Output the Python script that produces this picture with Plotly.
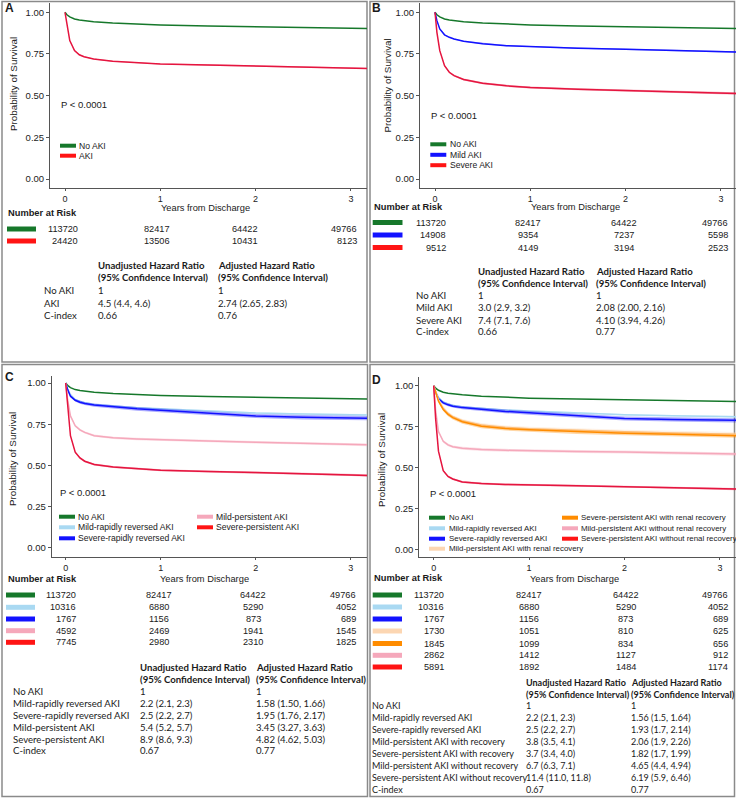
import plotly.graph_objects as go

# ---------------- DATA ----------------
T = [0, 0.02, 0.05, 0.1, 0.15, 0.2, 0.3, 0.5, 0.75, 1, 1.5, 2, 2.5, 3, 3.2]

no_aki = [1.0, 0.985, 0.972, 0.960, 0.954, 0.950, 0.944, 0.936, 0.929, 0.924, 0.918, 0.913, 0.909, 0.905, 0.903]
aki_A = [1.0, 0.92, 0.83, 0.77, 0.745, 0.733, 0.72, 0.706, 0.697, 0.69, 0.684, 0.678, 0.672, 0.666, 0.663]
aki_A_ci = [0, 0.002, 0.003, 0.003, 0.003, 0.003, 0.003, 0.003, 0.003, 0.003, 0.004, 0.004, 0.004, 0.004, 0.004]

mild_B = [1.0, 0.95, 0.90, 0.865, 0.85, 0.84, 0.826, 0.812, 0.80, 0.794, 0.785, 0.778, 0.771, 0.764, 0.761]
mild_B_ci = [0, 0.002, 0.003, 0.003, 0.003, 0.003, 0.003, 0.004, 0.004, 0.004, 0.004, 0.004, 0.005, 0.005, 0.005]
severe_B = [1.0, 0.88, 0.77, 0.68, 0.64, 0.62, 0.597, 0.575, 0.559, 0.549, 0.538, 0.53, 0.522, 0.516, 0.513]
severe_B_ci = [0, 0.004, 0.005, 0.005, 0.005, 0.005, 0.006, 0.006, 0.006, 0.006, 0.006, 0.007, 0.007, 0.007, 0.007]

mild_rapid_C = [1.0, 0.965, 0.93, 0.90, 0.888, 0.88, 0.87, 0.86, 0.85, 0.843, 0.83, 0.818, 0.812, 0.808, 0.806]
mild_rapid_C_ci = [0, 0.002, 0.003, 0.003, 0.004, 0.004, 0.004, 0.004, 0.004, 0.005, 0.005, 0.005, 0.005, 0.006, 0.006]
severe_rapid_C = [1.0, 0.96, 0.92, 0.895, 0.883, 0.875, 0.866, 0.855, 0.843, 0.834, 0.818, 0.80, 0.792, 0.788, 0.786]
severe_rapid_C_ci = [0, 0.005, 0.007, 0.008, 0.009, 0.009, 0.010, 0.010, 0.011, 0.011, 0.012, 0.012, 0.013, 0.013, 0.013]
mild_pers_C = [1.0, 0.9, 0.8, 0.74, 0.715, 0.70, 0.68, 0.667, 0.66, 0.655, 0.648, 0.64, 0.634, 0.627, 0.624]
mild_pers_C_ci = [0, 0.005, 0.006, 0.007, 0.007, 0.007, 0.007, 0.007, 0.007, 0.007, 0.008, 0.008, 0.008, 0.008, 0.008]
severe_pers_C = [1.0, 0.85, 0.68, 0.58, 0.545, 0.525, 0.505, 0.49, 0.478, 0.47, 0.463, 0.457, 0.45, 0.442, 0.438]
severe_pers_C_ci = [0, 0.004, 0.005, 0.006, 0.006, 0.006, 0.006, 0.006, 0.006, 0.006, 0.006, 0.006, 0.007, 0.007, 0.007]

mild_rapid_D = [1.0, 0.965, 0.93, 0.90, 0.888, 0.88, 0.87, 0.86, 0.852, 0.845, 0.833, 0.822, 0.816, 0.812, 0.81]
mild_rapid_D_ci = [0, 0.002, 0.003, 0.003, 0.004, 0.004, 0.004, 0.004, 0.004, 0.005, 0.005, 0.005, 0.005, 0.006, 0.006]
severe_rapid_D = [1.0, 0.96, 0.92, 0.895, 0.883, 0.875, 0.866, 0.855, 0.843, 0.834, 0.818, 0.80, 0.794, 0.79, 0.788]
severe_rapid_D_ci = [0, 0.005, 0.007, 0.008, 0.009, 0.009, 0.010, 0.010, 0.011, 0.011, 0.012, 0.012, 0.013, 0.013, 0.013]
mild_pers_rec_D = [1.0, 0.965, 0.915, 0.865, 0.832, 0.81, 0.785, 0.76, 0.745, 0.737, 0.726, 0.718, 0.711, 0.705, 0.703]
mild_pers_rec_D_ci = [0, 0.006, 0.008, 0.010, 0.011, 0.011, 0.012, 0.012, 0.012, 0.012, 0.013, 0.013, 0.013, 0.013, 0.013]
severe_pers_rec_D = [1.0, 0.96, 0.905, 0.855, 0.825, 0.805, 0.78, 0.752, 0.738, 0.73, 0.718, 0.71, 0.703, 0.697, 0.694]
severe_pers_rec_D_ci = [0, 0.006, 0.008, 0.010, 0.011, 0.011, 0.012, 0.012, 0.012, 0.012, 0.013, 0.013, 0.013, 0.013, 0.013]
mild_pers_norec_D = [1.0, 0.85, 0.72, 0.66, 0.638, 0.627, 0.618, 0.61, 0.605, 0.602, 0.598, 0.595, 0.59, 0.585, 0.582]
mild_pers_norec_D_ci = [0, 0.005, 0.007, 0.008, 0.008, 0.008, 0.009, 0.009, 0.009, 0.009, 0.009, 0.009, 0.010, 0.010, 0.010]
severe_pers_norec_D = [1.0, 0.8, 0.6, 0.48, 0.445, 0.43, 0.412, 0.402, 0.396, 0.392, 0.388, 0.383, 0.377, 0.372, 0.368]
severe_pers_norec_D_ci = [0, 0.004, 0.005, 0.006, 0.006, 0.006, 0.006, 0.006, 0.006, 0.006, 0.006, 0.006, 0.007, 0.007, 0.007]

x_ticks = [0, 1, 2, 3]
y_ticks = [0, 0.25, 0.5, 0.75, 1.0]

labels_A = ["No AKI", "AKI"]
risk_A = [[113720, 82417, 64422, 49766], [24420, 13506, 10431, 8123]]
hr_rows_A = ["No AKI", "AKI", "C-index"]
unadj_A = ["1", "4.5 (4.4, 4.6)", "0.66"]
adj_A = ["1", "2.74 (2.65, 2.83)", "0.76"]

labels_B = ["No AKI", "Mild AKI", "Severe AKI"]
risk_B = [[113720, 82417, 64422, 49766], [14908, 9354, 7237, 5598], [9512, 4149, 3194, 2523]]
hr_rows_B = ["No AKI", "Mild AKI", "Severe AKI", "C-index"]
unadj_B = ["1", "3.0 (2.9, 3.2)", "7.4 (7.1, 7.6)", "0.66"]
adj_B = ["1", "2.08 (2.00, 2.16)", "4.10 (3.94, 4.26)", "0.77"]

labels_C = ["No AKI", "Mild-rapidly reversed AKI", "Severe-rapidly reversed AKI",
            "Mild-persistent AKI", "Severe-persistent AKI"]
risk_C = [[113720, 82417, 64422, 49766], [10316, 6880, 5290, 4052], [1767, 1156, 873, 689],
          [4592, 2469, 1941, 1545], [7745, 2980, 2310, 1825]]
hr_rows_C = ["No AKI", "Mild-rapidly reversed AKI", "Severe-rapidly reversed AKI",
             "Mild-persistent AKI", "Severe-persistent AKI", "C-index"]
unadj_C = ["1", "2.2 (2.1, 2.3)", "2.5 (2.2, 2.7)", "5.4 (5.2, 5.7)", "8.9 (8.6, 9.3)", "0.67"]
adj_C = ["1", "1.58 (1.50, 1.66)", "1.95 (1.76, 2.17)", "3.45 (3.27, 3.63)", "4.82 (4.62, 5.03)", "0.77"]

labels_D = ["No AKI", "Mild-rapidly reversed AKI", "Severe-rapidly reversed AKI",
            "Mild-persistent AKI with renal recovery", "Severe-persistent AKI with renal recovery",
            "Mild-persistent AKI without renal recovery", "Severe-persistent AKI without renal recovery"]
risk_D = [[113720, 82417, 64422, 49766], [10316, 6880, 5290, 4052], [1767, 1156, 873, 689],
          [1730, 1051, 810, 625], [1845, 1099, 834, 656], [2862, 1412, 1127, 912], [5891, 1892, 1484, 1174]]
hr_rows_D = ["No AKI", "Mild-rapidly reversed AKI", "Severe-rapidly reversed AKI",
             "Mild-persistent AKI with recovery", "Severe-persistent AKI with recovery",
             "Mild-persistent AKI without recovery", "Severe-persistent AKI without recovery", "C-index"]
unadj_D = ["1", "2.2 (2.1, 2.3)", "2.5 (2.2, 2.7)", "3.8 (3.5, 4.1)", "3.7 (3.4, 4.0)",
           "6.7 (6.3, 7.1)", "11.4 (11.0, 11.8)", "0.67"]
adj_D = ["1", "1.56 (1.5, 1.64)", "1.93 (1.7, 2.14)", "2.06 (1.9, 2.26)", "1.82 (1.7, 1.99)",
         "4.65 (4.4, 4.94)", "6.19 (5.9, 6.46)", "0.77"]

# ---------------- STYLE ----------------
W, H = 736, 798
ARIAL = "Liberation Sans, Arial, sans-serif"
CAL = "Lato, Carlito, Calibri, sans-serif"

GREEN = "#16782b"
RED_LINE = "#e5153f"
RED = "#ff1414"
BLUE = "#1212ff"
LBLUE = "#a9d9f2"
PINK = "#f5a8bb"
PEACH = "#fcd6b2"
ORANGE = "#ff8c00"


def rgba(hexc, a):
    h = hexc.lstrip("#")
    return "rgba(%d,%d,%d,%s)" % (int(h[0:2], 16), int(h[2:4], 16), int(h[4:6], 16), a)


def PX(x):
    return x / W


def PY(y):
    return 1 - y / H


fig = go.Figure()
annotations = []
shapes = []


def txt(x, y, s, size=9, anchor="left", font=ARIAL, angle=0, color="#1a1a1a"):
    annotations.append(dict(x=PX(x), y=PY(y), xref="paper", yref="paper", text=s,
                            showarrow=False, xanchor=anchor, yanchor="middle",
                            textangle=angle, borderpad=0,
                            font=dict(family=font, size=size, color=color)))


def hline(x0, x1, y, color, width):
    shapes.append(dict(type="line", xref="paper", yref="paper", x0=PX(x0), x1=PX(x1),
                       y0=PY(y), y1=PY(y), line=dict(color=color, width=width)))


def box(x0, y0, x1, y1):
    shapes.append(dict(type="rect", xref="paper", yref="paper", x0=PX(x0), x1=PX(x1),
                       y0=PY(y1), y1=PY(y0), line=dict(color="#8a8a8a", width=1.5),
                       fillcolor="rgba(0,0,0,0)", layer="below"))


# panel geometry (pixels)
panels = [
    dict(k="", xdom=(50, 367), x0=65, xu=95.3, ydom=(3, 187.7), y0=179, yu=166.7),
    dict(k="2", xdom=(420, 736), x0=435, xu=95.3, ydom=(3, 187.7), y0=179, yu=166.7),
    dict(k="3", xdom=(51.7, 367), x0=65.7, xu=95.0, ydom=(376, 557), y0=547.7, yu=164.7),
    dict(k="4", xdom=(419.3, 736), x0=433.7, xu=95.4, ydom=(377, 557.3), y0=549.3, yu=163.6),
]

layout_axes = {}
for p in panels:
    xr = [(p["xdom"][0] - p["x0"]) / p["xu"], (p["xdom"][1] - p["x0"]) / p["xu"]]
    yr = [(p["y0"] - p["ydom"][1]) / p["yu"], (p["y0"] - p["ydom"][0]) / p["yu"]]
    layout_axes["xaxis" + p["k"]] = dict(
        domain=[PX(p["xdom"][0]), PX(p["xdom"][1])], range=xr, anchor="y" + p["k"],
        tickvals=x_ticks, ticks="outside", ticklen=2, tickcolor="#555", showline=True,
        linecolor="#555", linewidth=1, showgrid=False, zeroline=False,
        tickfont=dict(family=ARIAL, size=9, color="#222"))
    layout_axes["yaxis" + p["k"]] = dict(
        domain=[PY(p["ydom"][1]), PY(p["ydom"][0])], range=yr, anchor="x" + p["k"],
        tickvals=y_ticks, tickformat=".2f", ticks="outside", ticklen=3, tickcolor="#555",
        showline=True, linecolor="#555", linewidth=1, showgrid=False, zeroline=False,
        tickfont=dict(family=ARIAL, size=9.5, color="#222"))


def curve(k, y, color, ci=None, width=1.5):
    xa, ya = "x" + k, "y" + k
    if ci is not None:
        up = [v + c for v, c in zip(y, ci)]
        lo = [v - c for v, c in zip(y, ci)]
        fig.add_trace(go.Scatter(x=T, y=up, xaxis=xa, yaxis=ya, mode="lines",
                                 line=dict(width=0), showlegend=False, hoverinfo="skip"))
        fig.add_trace(go.Scatter(x=T, y=lo, xaxis=xa, yaxis=ya, mode="lines",
                                 line=dict(width=0), fill="tonexty",
                                 fillcolor=rgba(color, 0.35), showlegend=False, hoverinfo="skip"))
    fig.add_trace(go.Scatter(x=T, y=y, xaxis=xa, yaxis=ya, mode="lines",
                             line=dict(color=color, width=width), showlegend=False))


# Panel A curves
curve("", no_aki, GREEN)
curve("", aki_A, RED_LINE, aki_A_ci)
# Panel B
curve("2", no_aki, GREEN)
curve("2", mild_B, BLUE, mild_B_ci)
curve("2", severe_B, RED_LINE, severe_B_ci)
# Panel C
curve("3", no_aki, GREEN)
curve("3", mild_rapid_C, LBLUE, mild_rapid_C_ci)
curve("3", severe_rapid_C, BLUE, severe_rapid_C_ci)
curve("3", mild_pers_C, PINK, mild_pers_C_ci)
curve("3", severe_pers_C, RED_LINE, severe_pers_C_ci)
# Panel D
curve("4", no_aki, GREEN)
curve("4", mild_rapid_D, LBLUE, mild_rapid_D_ci)
curve("4", severe_rapid_D, BLUE, severe_rapid_D_ci)
curve("4", mild_pers_rec_D, PEACH, mild_pers_rec_D_ci)
curve("4", severe_pers_rec_D, ORANGE, severe_pers_rec_D_ci)
curve("4", mild_pers_norec_D, PINK, mild_pers_norec_D_ci)
curve("4", severe_pers_norec_D, RED_LINE, severe_pers_norec_D_ci)

# ---------------- panel frames and letters ----------------
box(2, 1.5, 367, 362)
box(370, 1.5, 734.5, 362)
box(2, 364.5, 367.5, 796.5)
box(370, 364.5, 734.5, 796.5)

txt(4, 8, "<b>A</b>", size=12)
txt(371, 8, "<b>B</b>", size=12)
txt(4, 377, "<b>C</b>", size=12)
txt(371, 380, "<b>D</b>", size=12)

# axis titles
for (xt, yt, xp, yp) in [(205, 207.5, 13, 84), (575, 206.5, 386.5, 86), (204.5, 578.5, 12, 459), (574.5, 579, 381, 460)]:
    txt(xt, yt, "Years from Discharge", size=9.3, anchor="center")
    txt(xp, yp, "Probability of Survival", size=9.8, anchor="center", angle=-90)

# P-values
txt(60, 104.3, "P < 0.0001", size=9.5)
txt(430, 115, "P < 0.0001", size=9.5)
txt(59, 492.7, "P < 0.0001", size=9.5)
txt(428.7, 493.3, "P < 0.0001", size=9.5)


# ---------------- legends ----------------
def legend(items, cols, ys, lx, tx, fs=8.6):
    for (lab, col), c, y in zip(items, cols, ys):
        hline(lx[c], lx[c] + 16, y, col, 4)
        txt(tx[c], y, lab, size=fs)


legend(list(zip(labels_A, [GREEN, RED])), [0, 0], [145.7, 155.7], [60], [78])
legend(list(zip(labels_B, [GREEN, BLUE, RED])), [0, 0, 0], [144.3, 154.8, 165.2], [430.3], [448.5])
legend(list(zip(labels_C, [GREEN, LBLUE, BLUE, PINK, RED])), [0, 0, 0, 1, 1],
       [516.7, 527.3, 538.3, 516.7, 527.3], [59, 197], [77, 215])
legend(list(zip(labels_D, [GREEN, LBLUE, BLUE, PEACH, ORANGE, PINK, RED])), [0, 0, 0, 0, 1, 1, 1],
       [517.7, 528.3, 538.7, 548.7, 517.7, 528.3, 538.7], [429, 562], [447.5, 579.5], fs=7.9)


# ---------------- risk tables ----------------
def risk_table(title_xy, rows, colors, row_ys, bar_x, cols):
    txt(title_xy[0], title_xy[1], "<b>Number at Risk</b>", size=9.3)
    for r, c, y in zip(rows, colors, row_ys):
        hline(bar_x[0], bar_x[1], y, c, 5)
        txt(cols[0], y, str(r[0]), size=9.2, anchor="right")
        txt(cols[1], y, str(r[1]), size=9.2, anchor="center")
        txt(cols[2], y, str(r[2]), size=9.2, anchor="center")
        txt(cols[3], y, str(r[3]), size=9.2, anchor="right")


risk_table((7, 212.5), risk_A, [GREEN, RED], [229, 241], (7, 36), (79, 157, 245, 358))
risk_table((372.7, 207), risk_B, [GREEN, BLUE, RED], [222.5, 235, 247.5], (372.7, 402.5), (447, 528, 624, 729))
risk_table((7, 578.5), risk_C, [GREEN, LBLUE, BLUE, PINK, RED], [595, 607.3, 619, 630.7, 642.3],
           (6, 35), (77, 159, 253, 357.3))
risk_table((372.7, 578), risk_D, [GREEN, LBLUE, BLUE, PEACH, ORANGE, PINK, RED],
           [595, 607, 619, 631, 643.5, 655.3, 667], (372.7, 402), (445, 528.7, 625.5, 728.7))


# ---------------- hazard ratio tables ----------------
def hr_table(hy, ux, ax, lx, rows, un, ad, row_ys, fs=9.6):
    txt(ux, hy[0], "<b>Unadjusted Hazard Ratio</b>", size=fs, font=CAL)
    txt(ux, hy[1], "<b>(95% Confidence Interval)</b>", size=fs, font=CAL)
    txt(ax, hy[0], "<b>Adjusted Hazard Ratio</b>", size=fs, font=CAL)
    txt(ax, hy[1], "<b>(95% Confidence Interval)</b>", size=fs, font=CAL)
    for lab, u, a, y in zip(rows, un, ad, row_ys):
        txt(lx, y, lab, size=fs, font=CAL)
        txt(ux, y, u, size=fs, font=CAL)
        txt(ax, y, a, size=fs, font=CAL)


hr_table((266, 277.7), 97, 217, 43, hr_rows_A, unadj_A, adj_A, [290.7, 303.2, 315.6])
hr_table((271, 283.3), 477, 595.3, 415.3, hr_rows_B, unadj_B, adj_B, [295, 307.5, 320, 331.7])
hr_table((667.7, 679.3), 139.3, 255, 12.3, hr_rows_C, unadj_C, adj_C,
         [691.7, 703.3, 715, 727.2, 739, 750.7])
hr_table((682.3, 694.3), 525.3, 630, 370.7, hr_rows_D, unadj_D, adj_D,
         [705.3, 717.5, 729.6, 741.6, 753.4, 765.5, 777.4, 789], fs=9.0)

fig.update_layout(width=W, height=H, margin=dict(l=0, r=0, t=0, b=0),
                  paper_bgcolor="white", plot_bgcolor="white", showlegend=False,
                  annotations=annotations, shapes=shapes, **layout_axes)

fig.write_html("out.html", config={"displayModeBar": False},
               post_script="document.body.style.margin='0px';document.body.style.overflow='hidden';")
